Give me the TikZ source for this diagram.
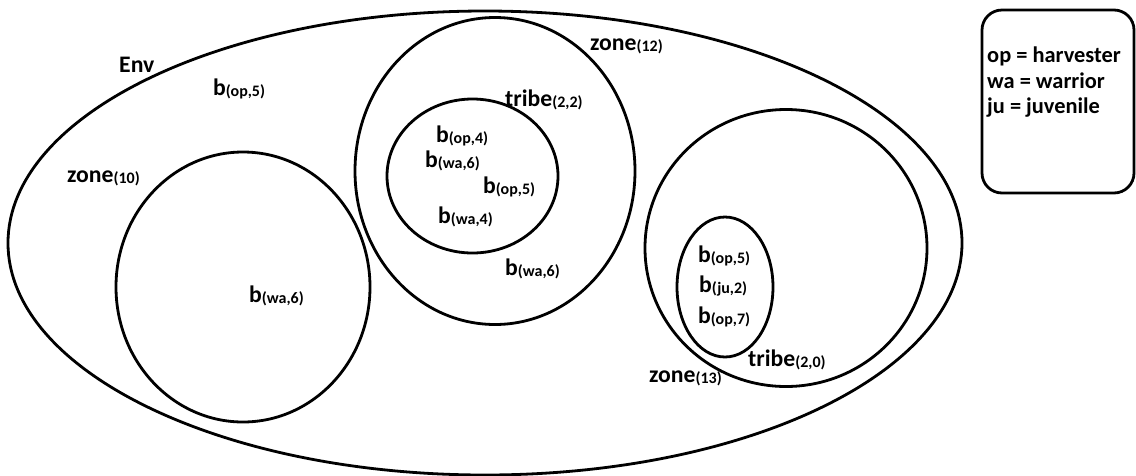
\documentclass[tikz,border=0pt]{standalone}
\usepackage{fontspec}
\setmainfont{Carlito}
\usetikzlibrary{shapes.geometric}
% size of the bracketed index after a name
\newcommand\subsz{\fontsize{16}{16}\selectfont}
\newcommand\sublab[2]{#1\raisebox{-1pt}{\subsz(#2)}}
\tikzset{
  outline/.style={draw, line width=2.8pt},
  region/.style={outline, ellipse, inner sep=0pt},
  lab/.style={anchor=base west, inner sep=0pt,
              font=\fontsize{23.7}{26}\selectfont\bfseries},
  legtext/.style={anchor=base west, inner sep=0pt,
              font=\fontsize{22.4}{25}\selectfont\bfseries},
}
\begin{document}
\begin{tikzpicture}[x=1pt,y=-1pt]
\useasboundingbox (0,0) rectangle (1136,475);

% the environment
\node[region, minimum width=954, minimum height=464] (env) at (485,243) {};

% zones and tribes
\node[region, minimum width=254, minimum height=270] (zone10) at (243,287) {};
\node[region, minimum width=280, minimum height=307] (zone12) at (495,171) {};
\node[region, minimum width=171, minimum height=154] (tribe22) at (472.5,176) {};
\node[region, minimum width=282, minimum height=277] (zone13) at (786,248) {};
\node[region, minimum width=96, minimum height=140] (tribe20) at (725,287) {};

% legend
\node[outline, rounded corners=20pt, minimum width=152, minimum height=183,
      inner sep=0pt] (legend) at (1058,101.5) {};
\node[legtext] (leg1) at (987,62) {op = harvester};
\node[legtext] (leg2) at (987,88) {wa = warrior};
\node[legtext] (leg3) at (987,113) {ju = juvenile};

% labels
\node[lab] (envlab) at (119,72) {Env};
\node[lab] (b1) at (213,95) {\sublab{b}{op,5}};
\node[lab] (zone10lab) at (67,182) {\sublab{zone}{10}};
\node[lab] (b2) at (249,302) {\sublab{b}{wa,6}};

\node[lab] (zone12lab) at (590,50) {\sublab{zone}{12}};
\node[lab] (tribe22lab) at (505,106) {\sublab{tribe}{2,2}};
\node[lab] (b3) at (436,142) {\sublab{b}{op,4}};
\node[lab] (b4) at (425,167) {\sublab{b}{wa,6}};
\node[lab] (b5) at (483,193) {\sublab{b}{op,5}};
\node[lab] (b6) at (438,223) {\sublab{b}{wa,4}};
\node[lab] (b7) at (505,275) {\sublab{b}{wa,6}};

\node[lab] (b8) at (698,262) {\sublab{b}{op,5}};
\node[lab] (b9) at (699,292) {\sublab{b}{ju,2}};
\node[lab] (b10) at (698,323) {\sublab{b}{op,7}};
\node[lab] (tribe20lab) at (748,366) {\sublab{tribe}{2,0}};
\node[lab] (zone13lab) at (649,382) {\sublab{zone}{13}};
\end{tikzpicture}
\end{document}
